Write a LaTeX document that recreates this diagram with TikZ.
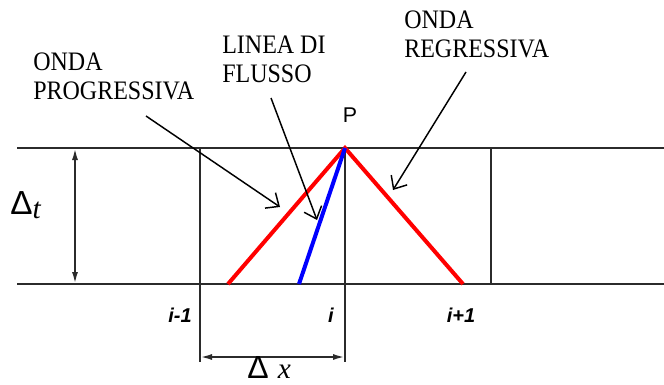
\documentclass[tikz,border=0pt]{standalone}
\usepackage{fontspec}
\setmainfont{Liberation Serif}
\newfontfamily\notefont[FakeStretch=0.9]{Liberation Serif}
\newfontfamily\arialfont{Liberation Sans}
\usetikzlibrary{arrows.meta,positioning}
\definecolor{wavered}{HTML}{FF0000}
\definecolor{flowblue}{HTML}{0000FF}
\definecolor{gridgray}{HTML}{2B2B2B}
\tikzset{
  gridline/.style={draw=gridgray,line width=1.5pt},
  wave/.style={draw=wavered,line width=3pt},
  flowline/.style={draw=flowblue,line width=3pt},
  dim/.style={{Latex[length=9pt,width=4.5pt]}-{Latex[length=9pt,width=4.5pt]},draw=gridgray,line width=1.5pt},
  pointer/.style={-{Straight Barb[length=8pt,width=14pt]},line width=1.1pt},
  note/.style={align=left,inner sep=0pt,font=\notefont\fontsize{20}{21.5}\selectfont},
  idx/.style={inner sep=0pt,font=\arialfont\bfseries\itshape\fontsize{15}{15}\selectfont},
}

\begin{document}
\begin{tikzpicture}[x=0.75pt,y=-0.75pt]
  \useasboundingbox (0,0) rectangle (664,385);
  % grid
  \coordinate (tl) at (17,148);  \coordinate (tr) at (664,148);
  \coordinate (bl) at (17,284);  \coordinate (br) at (664,284);
  \coordinate (P) at (345,148);
  \coordinate (a1) at (200,148); \coordinate (a2) at (200,362);
  \coordinate (b2) at (345,362);
  \coordinate (c1) at (491,148); \coordinate (c2) at (491,284);
  \draw[gridline] (tl)--(tr);
  \draw[gridline] (bl)--(br);
  \draw[gridline] (a1)--(a2);
  \draw[gridline] (P)--(b2);
  \draw[gridline] (c1)--(c2);
  % characteristics through P
  \coordinate (left) at (228,284);
  \coordinate (foot) at (299,284);
  \coordinate (right) at (463,284);
  \draw[wave] (left)--(P)--(right);
  \draw[flowline] (foot)--(P);
  % dimensions
  \coordinate (dt1) at (75,148); \coordinate (dt2) at (75,284);
  \coordinate (dx1) at (200,357); \coordinate (dx2) at (345,357);
  \draw[dim] (dt1)--(dt2);
  \draw[dim] (dx1)--(dx2);
  \node[inner sep=0pt,anchor=base west] (dtlab) at (10,214)
    {{\arialfont\fontsize{25}{25}\selectfont Δ}\raisebox{-3pt}{\fontsize{22}{22}\selectfont\itshape t}};
  \node[inner sep=0pt,anchor=base west] (dxlab) at (247,378)
    {{\arialfont\fontsize{24}{24}\selectfont Δ}\hspace{7pt}{\fontsize{22}{22}\selectfont\itshape x}};
  % labels
  \node[inner sep=0pt,font=\arialfont\fontsize{16}{16}\selectfont] (plab) at (350,115) {P};
  \node[idx] (im1) at (180,315) {i-1};
  \node[idx] (i0) at (331,315) {i};
  \node[idx] (ip1) at (461,315) {i+1};
  \node[note,anchor=north west] (prog) at (33,53) {ONDA\\PROGRESSIVA};
  \node[note,anchor=north west] (linea) at (222,36) {LINEA DI\\FLUSSO};
  \node[note,anchor=north west] (regr) at (404,11) {ONDA\\REGRESSIVA};
  % pointers
  \coordinate (progtail) at (146,116); \coordinate (progtip) at (280,207);
  \coordinate (lineatail) at (271,98); \coordinate (lineatip) at (317,220);
  \coordinate (regrtail) at (466,72);  \coordinate (regrtip) at (393,190);
  \draw[pointer] (progtail)--(progtip);
  \draw[pointer] (lineatail)--(lineatip);
  \draw[pointer] (regrtail)--(regrtip);
\end{tikzpicture}
\end{document}
